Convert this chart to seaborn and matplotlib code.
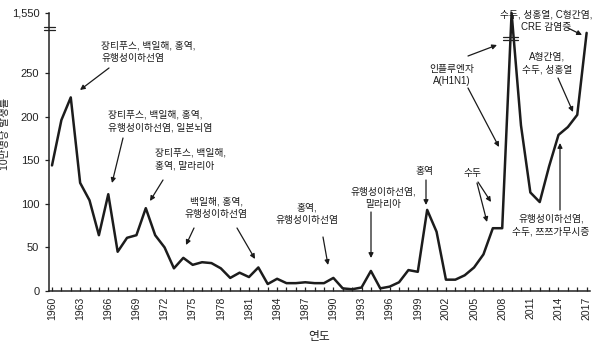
import numpy as np
import matplotlib
matplotlib.use("Agg")
import matplotlib.pyplot as plt
import seaborn as sns
from matplotlib.lines import Line2D

# ---------------- data ----------------
years = list(range(1960, 2018))
incidence = [
    144, 196, 222, 124, 104, 64, 111, 45, 61, 64,      # 1960-1969
    95, 64, 50, 26, 38, 30, 33, 32, 26, 15,            # 1970-1979
    21, 16, 27, 8, 14, 9, 9, 10, 9, 9,                 # 1980-1989
    15, 3, 2, 4, 23, 3, 5, 10, 24, 22,                 # 1990-1999
    93, 68, 13, 13, 18, 27, 42, 72, 72, 1550,          # 2000-2009
    190, 113, 102, 143, 179, 188, 202, 296,            # 2010-2017
]
ytick_values = [0, 50, 100, 150, 200, 250, 1550]
ytick_labels = ["0", "50", "100", "150", "200", "250", "1,550"]
xtick_years = list(range(1960, 2018, 3))
x_label = "연도"
y_label = "10만명당 발생률"

annotation_texts = [
    "장티푸스, 백일해, 홍역,\n유행성이하선염",
    "장티푸스, 백일해, 홍역,\n유행성이하선염, 일본뇌염",
    "장티푸스, 백일해,\n홍역, 말라리아",
    "백일해, 홍역,\n유행성이하선염",
    "홍역,\n유행성이하선염",
    "유행성이하선염,\n말라리아",
    "홍역",
    "수두",
    "인플루엔자\nA(H1N1)",
    "수두, 성홍열, C형간염,\nCRE 감염증",
    "A형간염,\n수두, 성홍열",
    "유행성이하선염,\n수두, 쯔쯔가무시증",
]

# ---------------- style / layout ----------------
W, H = 600, 350
sns.set_theme(style="white")
plt.rcParams["font.family"] = ["Liberation Sans", "Noto Sans CJK KR"]

# piecewise (broken) y scale: linear up to 300, compressed above
BREAK = 300.0
K = 18.8 / 1250.0


def fwd(v):
    v = np.asarray(v, dtype=float)
    return np.where(v <= BREAK, v, BREAK + (v - BREAK) * K)


def inv(u):
    u = np.asarray(u, dtype=float)
    return np.where(u <= BREAK, u, BREAK + (u - BREAK) / K)


fig = plt.figure(figsize=(W / 100, H / 100), dpi=100)
ax = fig.add_axes([49 / W, (H - 291) / H, 541 / W, 278 / H])

sns.lineplot(x=years, y=incidence, ax=ax, color="#1c1c1c", linewidth=1.8,
             clip_on=False)

ax.set_yscale("function", functions=(fwd, inv))
ax.set_ylim(0, 1550)
ax.set_xlim(1959.68, 2017.36)

ax.set_yticks(ytick_values)
ax.set_yticklabels(ytick_labels, fontsize=8, color="#222222")
ax.set_xticks(xtick_years)
ax.set_xticklabels([str(y) for y in xtick_years], rotation=90, fontsize=7.5,
                   color="#222222")
ax.set_xticks(years, minor=True)
ax.tick_params(axis="x", which="both", direction="in", length=3, width=0.9,
               color="#222222", pad=4, bottom=True)
ax.tick_params(axis="y", direction="out", length=3, width=0.9,
               color="#222222", pad=4, left=True)

for s in ["top", "right"]:
    ax.spines[s].set_visible(False)
for s in ["left", "bottom"]:
    ax.spines[s].set_color("#222222")
    ax.spines[s].set_linewidth(1.1)

ax.set_xlabel(x_label, fontsize=8.5, labelpad=8, color="#222222")
ax.set_ylabel(y_label, fontsize=7.5, color="#222222")
ax.yaxis.set_label_coords(-0.072, 0.565)
ax.grid(False)


def P(x, y):
    """reference pixel (top-left origin) -> figure fraction"""
    return (x / W, 1 - y / H)


# annotation text blocks: (x, y, ha)
text_pos = [
    (101, 52, "left"),
    (108, 121, "left"),
    (155, 159, "left"),
    (216, 208, "center"),
    (307, 214, "center"),
    (383, 198, "center"),
    (425, 171, "center"),
    (472, 173, "center"),
    (452, 75, "center"),
    (546, 21, "center"),
    (547, 63, "center"),
    (551, 225, "center"),
]
for txt, (tx, ty, ha) in zip(annotation_texts, text_pos):
    fig.text(*P(tx, ty), txt, ha=ha, va="center", multialignment=ha,
             fontsize=7, color="#1a1a1a", linespacing=1.35, fontweight="medium")

# arrows: tail -> head
arrows = [
    ((109, 68), (80, 90)),
    ((123, 138), (112, 183)),
    ((163, 180), (150, 201)),
    ((194, 228), (186, 245)),
    ((237, 228), (255, 259)),
    ((323, 237), (328, 265)),
    ((371, 212), (371, 258)),
    ((426, 180), (426, 205)),
    ((478, 182), (491, 202)),
    ((477, 183), (487, 222)),
    ((468, 56), (497, 45)),
    ((468, 88), (499, 147)),
    ((568, 28), (582, 35)),
    ((558, 78), (573, 112)),
    ((560, 210), (560, 143)),
]
for tail, head in arrows:
    ax.annotate("", xy=P(*head), xycoords="figure fraction",
                xytext=P(*tail), textcoords="figure fraction",
                arrowprops=dict(arrowstyle="-|>", color="#1a1a1a", lw=0.9,
                                mutation_scale=7, shrinkA=0, shrinkB=0))

# axis-break marks
for yy in (27, 30):
    fig.add_artist(Line2D([44 / W, 55 / W], [1 - yy / H] * 2,
                          color="#222222", lw=0.9))
for yy in (37, 40):
    fig.add_artist(Line2D([503 / W, 518 / W], [1 - yy / H] * 2,
                          color="#222222", lw=0.9))

fig.savefig("out.png", dpi=100, facecolor="white")
